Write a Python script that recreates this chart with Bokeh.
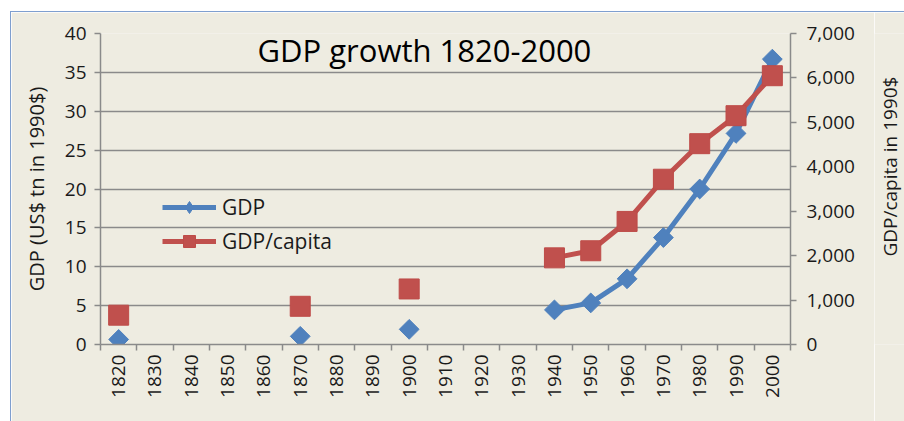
import math
import numpy as np
from bokeh.plotting import figure
from bokeh.layouts import row
from bokeh.models import (Range1d, LinearAxis, FixedTicker, Label, Legend, LegendItem,
                          NumeralTickFormatter, ColumnDataSource)
from bokeh.embed import file_html
from bokeh.resources import INLINE

nan = float("nan")
years = [str(y) for y in range(1820, 2001, 10)]
gdp = [0.65, nan, nan, nan, nan, 1.05, nan, nan, 1.95, nan, nan, nan,
       4.45, 5.35, 8.45, 13.75, 20.0, 27.15, 36.7]
gdp_pc = [660, nan, nan, nan, nan, 860, nan, nan, 1250, nan, nan, nan,
          1950, 2110, 2770, 3720, 4520, 5150, 6050]
left_ticks = list(range(0, 41, 5))
right_ticks = list(range(0, 7001, 1000))
title_text = "GDP growth 1820-2000"
left_label = "GDP (US$ tn in 1990$)"
right_label = "GDP/capita in 1990$"

BG = "#EEECE1"
GRID = "#8A8A8A"
BLUE = "#4F81BD"
RED = "#C0504D"
FONT = "Open Sans"
TXT = "#1a1a1a"

xs = [i + 0.5 for i in range(len(years))]
src = ColumnDataSource(dict(x=xs, gdp=gdp, pc=gdp_pc))
swatch = ColumnDataSource(dict(x=[nan], y=[nan]))

p = figure(width=863, height=409, x_range=Range1d(0, len(years)), y_range=Range1d(0, 40),
           output_backend="svg", toolbar_location=None,
           min_border_left=89, min_border_right=84, min_border_top=21, min_border_bottom=77,
           background_fill_color=BG, border_fill_color=BG, outline_line_color=None)
p.title.visible = False
p.extra_y_ranges = {"pc": Range1d(0, 7000)}

# grid
p.xgrid.visible = False
p.ygrid.grid_line_color = GRID
p.ygrid.grid_line_width = 1.5
p.ygrid.ticker = FixedTicker(ticks=left_ticks)

# x axis
xa = p.xaxis[0]
xa.ticker = FixedTicker(ticks=xs, minor_ticks=list(range(len(years) + 1)))
xa.major_label_overrides = {x: y for x, y in zip(xs, years)}
xa.major_label_orientation = math.pi / 2
xa.major_tick_out = 0
xa.major_tick_in = 0
xa.minor_tick_out = 6
xa.minor_tick_in = 0
xa.minor_tick_line_color = GRID
xa.minor_tick_line_width = 1.5
xa.axis_line_color = GRID
xa.axis_line_width = 1.5
xa.major_label_text_font = FONT
xa.major_label_text_font_size = "19px"
xa.major_label_text_color = TXT
xa.major_label_standoff = 4

# left axis
ya = p.yaxis[0]
ya.ticker = FixedTicker(ticks=left_ticks)
ya.minor_tick_line_color = None
ya.major_tick_out = 6
ya.major_tick_in = 0
ya.major_tick_line_color = GRID
ya.major_tick_line_width = 1.5
ya.axis_line_color = GRID
ya.axis_line_width = 1.5
ya.major_label_text_font = FONT
ya.major_label_text_font_size = "19px"
ya.major_label_text_color = TXT
ya.major_label_standoff = 8
ya.axis_label = left_label
ya.axis_label_text_font = FONT
ya.axis_label_text_font_size = "20px"
ya.axis_label_text_font_style = "normal"
ya.axis_label_text_color = TXT
ya.axis_label_standoff = 12

# right axis
ra = LinearAxis(y_range_name="pc", ticker=FixedTicker(ticks=right_ticks),
                formatter=NumeralTickFormatter(format="0,0"))
ra.minor_tick_line_color = None
ra.major_tick_out = 6
ra.major_tick_in = 0
ra.major_tick_line_color = GRID
ra.major_tick_line_width = 1.5
ra.axis_line_color = GRID
ra.axis_line_width = 1.5
ra.major_label_text_font = FONT
ra.major_label_text_font_size = "19px"
ra.major_label_text_color = TXT
ra.major_label_standoff = 10
p.add_layout(ra, "right")

# series
l1 = p.line("x", "gdp", source=src, line_color=BLUE, line_width=5)
m1 = p.scatter("x", "gdp", source=src, marker="square", angle=math.pi / 4, size=14,
               fill_color=BLUE, line_color=BLUE)
l2 = p.line("x", "pc", source=src, y_range_name="pc", line_color=RED, line_width=5)
m2 = p.scatter("x", "pc", source=src, y_range_name="pc", marker="square", size=20,
               fill_color=RED, line_color="#BE4B48")
# legend-only diamond swatch (single NaN point, nothing drawn in the plot)
lg1 = p.scatter("x", "y", source=swatch, marker="diamond", size=20,
                fill_color=BLUE, line_color=BLUE)

legend = Legend(items=[LegendItem(label="GDP", renderers=[l1, lg1]),
                       LegendItem(label="GDP/capita", renderers=[l2, m2])],
                location=(62, 88), padding=0, margin=0, spacing=4,
                glyph_width=54, glyph_height=30, label_height=30, label_standoff=6,
                label_text_font=FONT, label_text_font_size="21px", label_text_color=TXT,
                background_fill_alpha=0, border_line_alpha=0)
p.add_layout(legend, "center")

p.add_layout(Label(x=8.92, y=37.9, text=title_text, text_align="center",
                   text_baseline="middle", text_font=FONT, text_font_size="31px",
                   text_color="#000000"))

# narrow strip holding the right axis title (reads bottom-to-top)
p2 = figure(width=30, height=409, x_range=Range1d(0, 1), y_range=Range1d(0, 409),
            x_axis_type=None, y_axis_type=None, output_backend="svg", toolbar_location=None,
            min_border=0, background_fill_color=BG, border_fill_color=BG,
            outline_line_color=None)
p2.title.visible = False
p2.add_layout(Label(x=0.5, y=234, text=right_label, angle=math.pi / 2,
                    text_align="center", text_baseline="middle", text_font=FONT,
                    text_font_size="19px", text_color=TXT))

layout = row(p, p2)
layout.styles = {"margin-left": "10px", "margin-top": "11px",
                 "border-left": "1px solid #7F9FCF", "border-top": "1px solid #7F9FCF"}

open("out.html", "w").write(file_html(layout, INLINE))
